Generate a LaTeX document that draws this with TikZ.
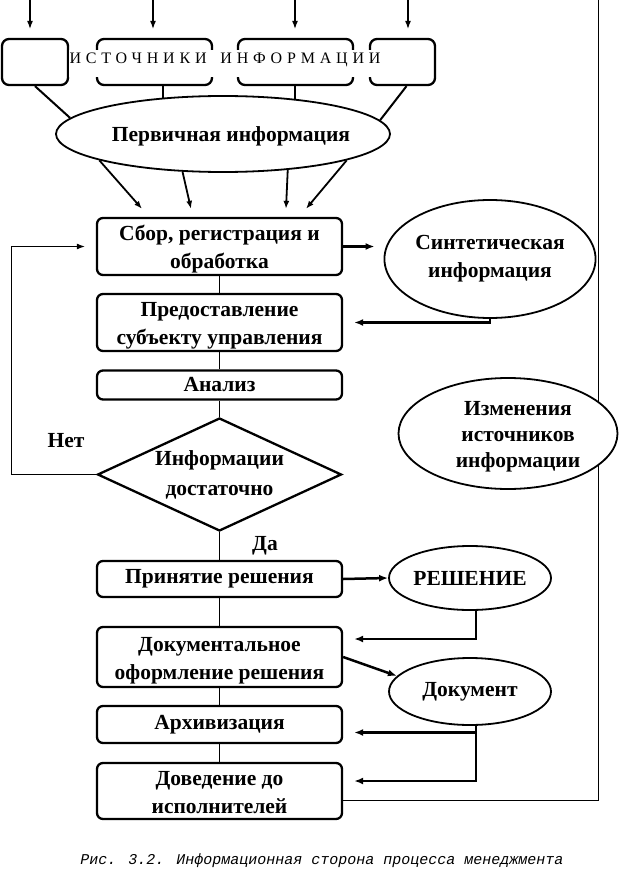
\documentclass[tikz,border=0pt]{standalone}
\usepackage{fontspec}
\setmainfont{Liberation Serif}
\newfontfamily\spaced[LetterSpace=30]{Liberation Serif}
\newfontfamily\capfont{Liberation Mono}
\usetikzlibrary{shapes.geometric,arrows.meta}

\begin{document}
\begin{tikzpicture}[x=1pt,y=-1pt,
  box/.style={draw, rounded corners=6, line width=2.3, minimum width=245, inner sep=0,
    align=center, font=\bfseries\fontsize{21.5}{28}\selectfont},
  twoline/.style={text height=50, text depth=6},
  oval/.style={draw, ellipse, line width=1.8, inner sep=0, fill=white,
    align=center, font=\bfseries\fontsize{21.5}{28}\selectfont},
  src/.style={draw, rounded corners=7, line width=2.3, minimum height=46},
  lbl/.style={align=center, font=\bfseries\fontsize{21.5}{26}\selectfont},
  conn/.style={line width=1},
  connarr/.style={line width=1.1, -{Latex[length=8,width=6]}},
  midarr/.style={line width=1.8, -{Latex[length=8,width=6]}},
  flowarr/.style={line width=2.5, -{Latex[length=9,width=7]}}]

\useasboundingbox (0,0) rectangle (619,896);

% источники информации
\node[src, minimum width=66]  (src1) at (35,62) {};
\node[src, minimum width=115] (src2) at (154.5,62) {};
\node[src, minimum width=115] (src3) at (295.5,62) {};
\node[src, minimum width=65]  (src4) at (402.5,62) {};
\node[fill=white, inner xsep=1, inner ysep=0, text height=14, text depth=13, anchor=base]
  (srctext) at (225,64) {\spaced\fontsize{16}{18}\selectfont ИСТОЧНИКИ\hspace{5pt} ИНФОРМАЦИИ};

\foreach \x [count=\i] in {30,153,295,408} {
  \coordinate (in\i) at (\x,0);
  \draw[connarr, shorten >=9] (in\i) -- (in\i |- src\i.north);
}

\node[oval, minimum width=334, minimum height=76] (perv) at (223,134) {};
\node[lbl] (pervtext) at (231,136) {Первичная информация};

\draw[line width=2] (src1.south) -- (perv.174);
\draw[line width=2] (perv.149 |- src2.south) -- (perv.149);
\draw[line width=2] (perv.26 |- src3.south) -- (perv.26);
\draw[line width=2] ([xshift=4]src4.south) -- (perv.5);

% основной поток
\node[box, twoline, minimum height=57] (sbor) at (219.5,246.5) {Сбор, регистрация и\\обработка};
\node[box, twoline, minimum height=57] (pred) at (219.5,322.5) {Предоставление\\субъекту управления};
\node[box, minimum height=29] (anal) at (219.5,385) {Анализ};
\node[draw, diamond, aspect=2.16, line width=2.3, minimum width=244, minimum height=113, inner sep=0,
  align=center, font=\bfseries\fontsize{21.5}{30}\selectfont] (dost) at (219.5,474.5)
  {Информации\\достаточно};
\node[box, minimum height=36] (prin) at (219.5,579) {Принятие решения};
\node[box, twoline, minimum height=60] (docf) at (219.5,657) {Документальное\\оформление решения};
\node[box, minimum height=37] (arch) at (219.5,724.5) {Архивизация};
\node[box, twoline, minimum height=56] (dov)  at (219.5,791) {Доведение до\\исполнителей};

\draw[midarr] (perv.192) -- ([xshift=-77.5,yshift=8]sbor.north);
\draw[midarr] (perv.223) -- ([xshift=-28.5,yshift=8]sbor.north);
\draw[midarr] (perv.331) -- ([xshift=66.5,yshift=8]sbor.north);
\draw[midarr] (perv.348) -- ([xshift=86.5,yshift=8]sbor.north);

\draw[conn] (sbor) -- (pred);
\draw[conn] (pred) -- (anal);
\draw[conn] (anal) -- (dost);
\draw[conn] (dost) -- (prin);
\draw[conn] (prin) -- (docf);
\draw[conn] (docf) -- (arch);
\draw[conn] (arch) -- (dov);

\node[lbl] (net) at (66,441) {Нет};
\node[lbl] (da) at (265,546) {Да};

\draw[connarr] (dost.west) -- ++(-85,0) |- ([xshift=-11]sbor.west);

% обратная связь
\coordinate (top) at (598,0);
\draw[conn] ([yshift=-9]dov.east) -| (top);

% правая колонка
\node[oval, minimum width=202, minimum height=118] (sint) at (490,259) {Синтетическая\\информация};
\node[oval, minimum width=219, minimum height=111] (izm) at (508,433.5) {};
\node[lbl] (izmtext) at (518,437) {Изменения\\источников\\информации};
\node[oval, minimum width=162, minimum height=64] (resh) at (470,578) {РЕШЕНИЕ};
\node[oval, minimum width=162, minimum height=67] (docm) at (470,691.5) {Документ};

\draw[flowarr, shorten >=9] (sbor.east) -- (sbor.east -| sint.west);
\draw[flowarr, shorten >=11] (sint.south) |- (pred.east);
\draw[flowarr] (prin.east) -- (resh.west);
\draw[flowarr, shorten >=11] ([xshift=6]resh.south) |- ([yshift=18]docf.east);
\draw[flowarr] (docf.east) -- (docm.168);
\draw[flowarr, shorten >=11] ([xshift=6]docm.south) |- ([yshift=-8]arch.east);
\draw[flowarr, shorten >=11] ([xshift=6]docm.south) |- ([yshift=10]dov.east);

\node[font=\capfont\itshape\fontsize{15}{18}\selectfont] (cap) at (322,861)
  {Рис. 3.2. Информационная сторона процесса менеджмента};

\end{tikzpicture}
\end{document}
